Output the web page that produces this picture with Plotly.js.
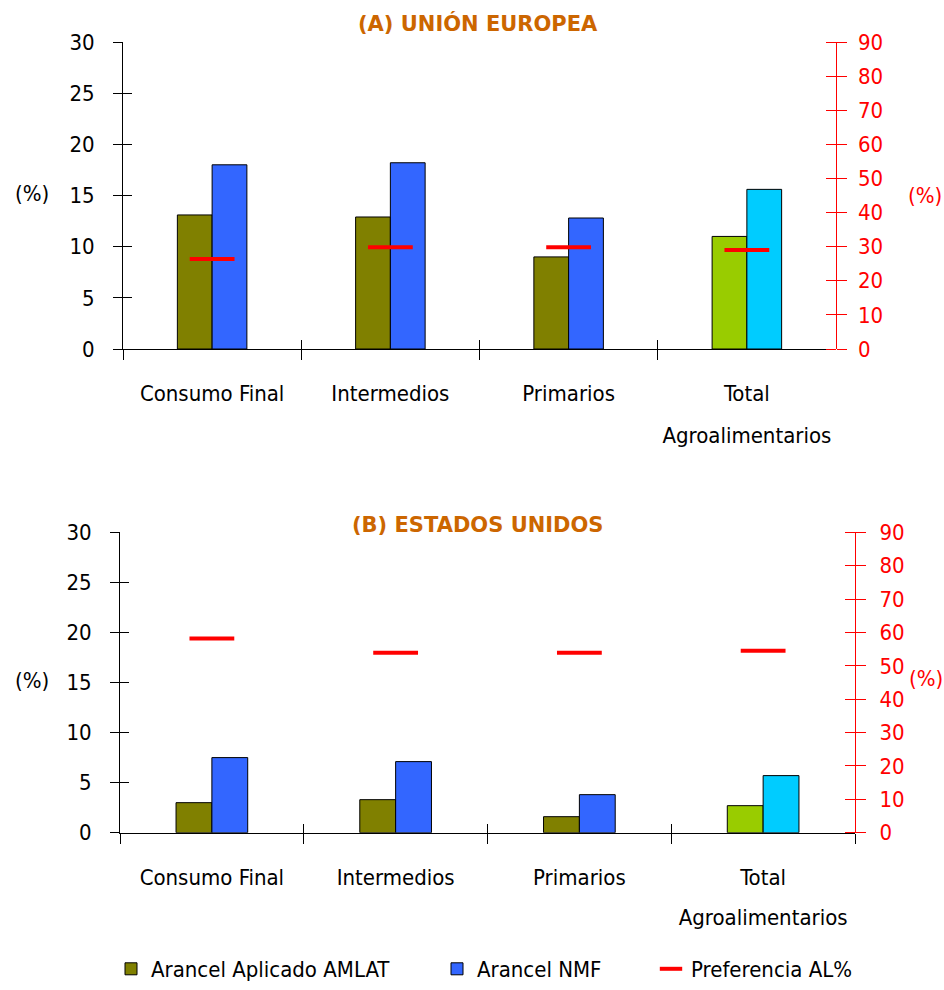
<!DOCTYPE html>
<html>
<head>
<meta charset="utf-8">
<script src="https://cdn.plot.ly/plotly-3.0.1.min.js"></script>
<style>html,body{margin:0;padding:0;background:#fff;}#chart{width:944px;height:990px;}</style>
</head>
<body>
<div id="chart"></div>
<script>
// ---- data ----
const categories = ['Consumo Final', 'Intermedios', 'Primarios', 'Total'];
const categoriesLine2 = ['', '', '', 'Agroalimentarios'];
const euAplicado = [13.1, 12.9, 9.0, 11.0];
const euNMF = [18.0, 18.2, 12.8, 15.6];
const euPreferencia = [26.4, 29.8, 29.8, 29.0];
const usAplicado = [3.0, 3.3, 1.6, 2.7];
const usNMF = [7.5, 7.1, 3.8, 5.7];
const usPreferencia = [58.2, 53.9, 53.9, 54.5];
const seriesNames = ['Arancel Aplicado AMLAT', 'Arancel NMF', 'Preferencia AL%'];
const panelTitles = ['(A) UNIÓN EUROPEA', '(B) ESTADOS UNIDOS'];
const leftTickVals = [0, 5, 10, 15, 20, 25, 30];
const rightTickVals = [0, 10, 20, 30, 40, 50, 60, 70, 80, 90];

// ---- styles ----
const FONT = 'DejaVu Sans Condensed, Liberation Sans Narrow, Arial Narrow, sans-serif';
const FS = 22;
const aplicadoColors = ['#808000', '#808000', '#808000', '#99CC00'];
const nmfColors = ['#3366FF', '#3366FF', '#3366FF', '#00CCFF'];
const RED = '#FF0000';
const idx = categories.map((_, i) => i);
const boundaries = [-0.5, 0.5, 1.5, 2.5, 3.5];
const nulls = categories.map(() => null);

function panelTraces(ap, nmf, pref, xa, ya, yr, showLeg) {
  return [
    {type: 'bar', name: seriesNames[0], x: categories, y: ap, xaxis: xa, yaxis: ya,
     marker: {color: aplicadoColors, line: {color: '#000', width: 1}}, showlegend: showLeg, legend: 'legend', hoverinfo: 'y'},
    {type: 'bar', name: seriesNames[1], x: categories, y: nmf, xaxis: xa, yaxis: ya,
     marker: {color: nmfColors, line: {color: '#000', width: 1}}, showlegend: showLeg, legend: 'legend2', hoverinfo: 'y'},
    {type: 'scatter', mode: 'markers', name: seriesNames[2], x: categories, y: pref, xaxis: xa, yaxis: yr,
     marker: {symbol: 'line-ew', size: 32, color: RED, line: {color: RED, width: 4}}, showlegend: showLeg, legend: 'legend3', hoverinfo: 'y'}
  ];
}
// helper traces (no visible marks) that only register the decorative tick axes
function helper(xa, ya) {
  return {type: 'scatter', mode: 'none', x: idx, y: nulls, xaxis: xa, yaxis: ya, showlegend: false, hoverinfo: 'skip'};
}

const data = [].concat(
  [helper('x', 'y5'), helper('x', 'y6'), helper('x2', 'y7'), helper('x2', 'y8'), helper('x', 'y9'),
   helper('x3', 'y'), helper('x4', 'y3'), helper('x5', 'y'), helper('x6', 'y3')],
  panelTraces(euAplicado, euNMF, euPreferencia, 'x', 'y', 'y2', true),
  panelTraces(usAplicado, usNMF, usPreferencia, 'x2', 'y3', 'y4', false)
);

const H = 990, W = 944;
function py(pix) { return 1 - pix / H; }
function px(pix) { return pix / W; }

function catAxis(dom, anchor) {
  return {domain: dom, anchor: anchor, type: 'category', categoryarray: categories, range: [-0.5, 3.5],
    tickson: 'boundaries', ticks: 'outside', ticklen: 10, tickcolor: '#000', tickwidth: 1,
    showline: true, linecolor: '#000', linewidth: 1, showgrid: false, zeroline: false,
    tickfont: {family: FONT, size: FS, color: '#000'}, ticklabelstandoff: 25, fixedrange: true};
}
function innerTickX(over, anchor) {
  return {overlaying: over, anchor: anchor, type: 'linear', range: [-0.5, 3.5], tickmode: 'array', tickvals: boundaries,
    ticks: 'inside', ticklen: 9, tickcolor: '#000', showticklabels: false, showgrid: false, zeroline: false, showline: false, fixedrange: true};
}
function line2X(over, anchor, standoff) {
  return {overlaying: over, anchor: anchor, type: 'linear', range: [-0.5, 3.5], tickmode: 'array', tickvals: idx,
    ticktext: categoriesLine2, ticks: '', showgrid: false, zeroline: false, showline: false,
    tickfont: {family: FONT, size: FS, color: '#000'}, ticklabelstandoff: standoff, fixedrange: true};
}
function leftY(dom, anchor) {
  return {domain: dom, anchor: anchor, range: [0, 30], tickmode: 'array', tickvals: leftTickVals,
    ticks: 'outside', ticklen: 9, tickcolor: '#000', showline: true, linecolor: '#000', linewidth: 1,
    showgrid: false, zeroline: false, tickfont: {family: FONT, size: FS, color: '#000'}, ticklabelstandoff: 14, fixedrange: true};
}
function rightY(dom, pos, standoff) {
  return {domain: dom, anchor: 'free', position: pos, side: 'right', range: [0, 90], tickmode: 'array', tickvals: rightTickVals,
    ticks: 'outside', ticklen: 10, tickcolor: RED, showline: true, linecolor: RED, linewidth: 1,
    showgrid: false, zeroline: false, tickfont: {family: FONT, size: FS, color: RED}, ticklabelstandoff: standoff, fixedrange: true};
}
// right axis whose only job is the labels, placed a little to the right of the axis line
function rightLabelsY(dom, pos) {
  return {domain: dom, anchor: 'free', position: pos, side: 'right', range: [0, 90], tickmode: 'array', tickvals: rightTickVals,
    ticks: '', showline: false, showgrid: false, zeroline: false,
    tickfont: {family: FONT, size: FS, color: RED}, fixedrange: true};
}
function rightLineY(dom, pos) {
  return {domain: dom, anchor: 'free', position: pos, side: 'right', range: [0, 90], tickmode: 'array', tickvals: rightTickVals,
    ticks: 'outside', ticklen: 10, tickcolor: RED, showline: true, linecolor: RED, linewidth: 1,
    showticklabels: false, showgrid: false, zeroline: false, fixedrange: true};
}
function innerLeftY(dom, anchor) {
  return {domain: dom, anchor: anchor, side: 'left', range: [0, 30], tickmode: 'array', tickvals: leftTickVals,
    ticks: 'inside', ticklen: 9, tickcolor: '#000', showticklabels: false, showgrid: false, zeroline: false, showline: false, fixedrange: true};
}
function innerRightY(dom, pos) {
  // a left-side axis placed on the right edge: its "outside" ticks point into the plot
  return {domain: dom, anchor: 'free', position: pos, side: 'left', range: [0, 90], tickmode: 'array', tickvals: rightTickVals,
    ticks: 'outside', ticklen: 10, tickcolor: RED, showticklabels: false, showgrid: false, zeroline: false, showline: false, fixedrange: true};
}

const topX = [px(123), px(836)], topY = [py(349), py(42)];
const botX = [px(120), px(855)], botY = [py(832.7), py(532.3)];

const annFont = {family: FONT, size: FS};
const titleFont = {family: 'DejaVu Sans, sans-serif', size: 21, color: '#CC6600', weight: 'bold'};
const legBase = {yref: 'paper', xref: 'paper', y: 0, xanchor: 'left', yanchor: 'bottom',
  orientation: 'h', bgcolor: 'rgba(0,0,0,0)', font: annFont};

const layout = {
  width: W, height: H, margin: {l: 0, r: 0, t: 0, b: 0},
  paper_bgcolor: '#fff', plot_bgcolor: 'rgba(0,0,0,0)',
  barmode: 'group', bargap: 0.61, bargroupgap: 0,
  font: {family: FONT, size: FS, color: '#000'},
  xaxis: catAxis(topX, 'y'),
  xaxis2: catAxis(botX, 'y3'),
  xaxis3: innerTickX('x', 'y'),
  xaxis4: innerTickX('x2', 'y3'),
  xaxis5: line2X('x', 'y', 71),
  xaxis6: line2X('x2', 'y3', 69),
  yaxis: leftY(topY, 'x'),
  yaxis2: rightLabelsY(topY, px(857)),
  yaxis9: rightLineY(topY, topX[1]),
  yaxis3: leftY(botY, 'x2'),
  yaxis4: rightY(botY, botX[1], 9),
  yaxis5: innerLeftY(topY, 'x'),
  yaxis6: innerRightY(topY, topX[1]),
  yaxis7: innerLeftY(botY, 'x2'),
  yaxis8: innerRightY(botY, botX[1]),
  legend: Object.assign({}, legBase, {x: px(111)}),
  legend2: Object.assign({}, legBase, {x: px(437)}),
  legend3: Object.assign({}, legBase, {x: px(651)}),
  annotations: [
    {text: panelTitles[0], xref: 'paper', yref: 'paper', x: px(478), y: py(23), xanchor: 'center', yanchor: 'middle', showarrow: false, font: titleFont},
    {text: panelTitles[1], xref: 'paper', yref: 'paper', x: px(478), y: py(525), xanchor: 'center', yanchor: 'middle', showarrow: false, font: titleFont},
    {text: '(%)', xref: 'paper', yref: 'paper', x: px(32), y: py(193), xanchor: 'center', yanchor: 'middle', showarrow: false, font: Object.assign({color: '#000'}, annFont)},
    {text: '(%)', xref: 'paper', yref: 'paper', x: px(925), y: py(195), xanchor: 'center', yanchor: 'middle', showarrow: false, font: Object.assign({color: RED}, annFont)},
    {text: '(%)', xref: 'paper', yref: 'paper', x: px(32), y: py(680), xanchor: 'center', yanchor: 'middle', showarrow: false, font: Object.assign({color: '#000'}, annFont)},
    {text: '(%)', xref: 'paper', yref: 'paper', x: px(926), y: py(678), xanchor: 'center', yanchor: 'middle', showarrow: false, font: Object.assign({color: RED}, annFont)}
  ]
};

Plotly.newPlot('chart', data, layout, {displayModeBar: false, staticPlot: true});
</script>
</body>
</html>
